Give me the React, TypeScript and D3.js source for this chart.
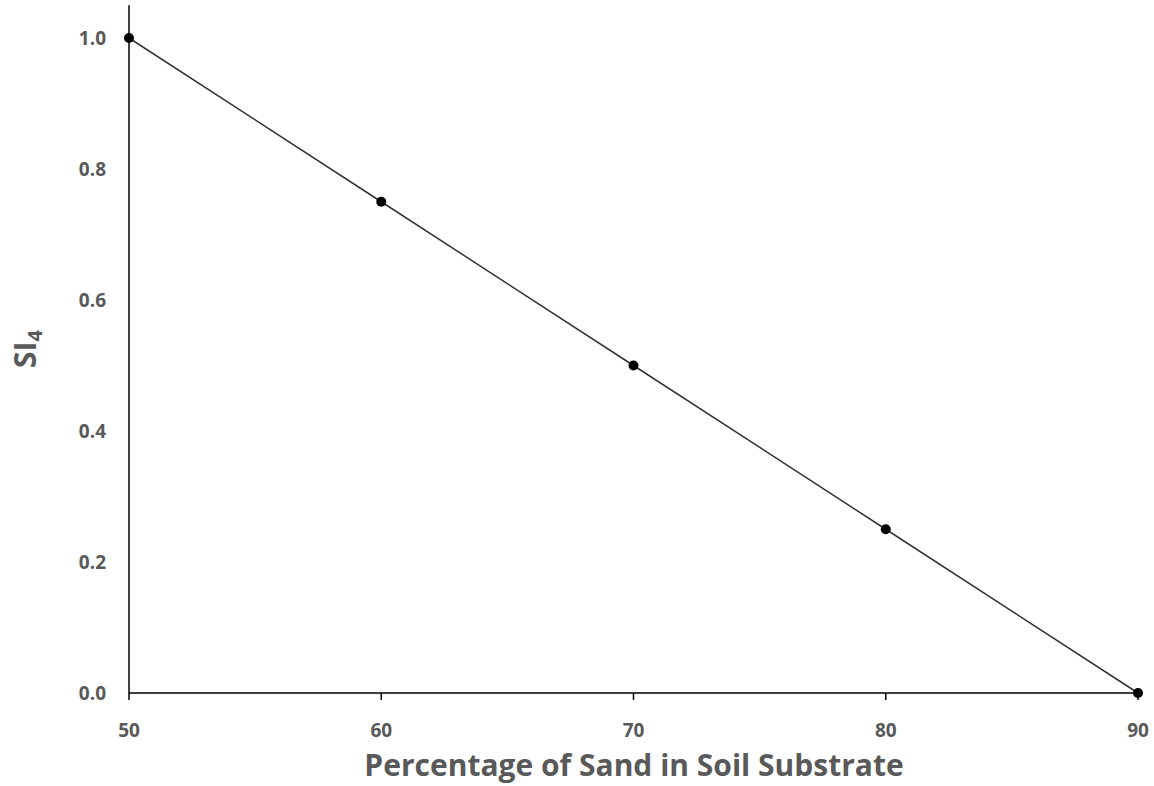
import React from "react";
import * as d3 from "d3";

const sandPct = [50, 60, 70, 80, 90];
const siValues = [1.0, 0.75, 0.5, 0.25, 0.0];
const xTicks = [50, 60, 70, 80, 90];
const yTicks = [0, 0.2, 0.4, 0.6, 0.8, 1.0];
const xTitle = "Percentage of Sand in Soil Substrate";

export default function App() {
  const W = 1154, H = 786;
  const x = d3.scaleLinear().domain([50, 90]).range([129, 1138]);
  const y = d3.scaleLinear().domain([0, 1]).range([693, 38]);
  const pts = sandPct.map((v, i) => [x(v), y(siValues[i])] as [number, number]);
  const line = d3.line()(pts) || "";
  const font = "'Open Sans', 'Liberation Sans', sans-serif";
  const gray = "#595959";
  return (
    <svg width={W} height={H} style={{ position: "fixed", left: 0, top: 0, background: "#fff" }}>
      <rect width={W} height={H} fill="#fff" />
      <line x1={x(50)} x2={x(50)} y1={y(1.05)} y2={y(0)} stroke="#000" strokeWidth={1.5} />
      <line x1={x(50)} x2={x(90)} y1={y(0)} y2={y(0)} stroke="#000" strokeWidth={1.5} />
      {xTicks.map((t) => (
        <g key={"x" + t}>
          <line x1={x(t)} x2={x(t)} y1={y(0)} y2={y(0) + 7} stroke="#000" strokeWidth={1.5} />
          <text x={x(t)} y={737} textAnchor="middle" fontFamily={font} fontWeight="bold" fontSize={19} fill={gray}>
            {t}
          </text>
        </g>
      ))}
      {yTicks.map((t) => (
        <text key={"y" + t} x={106} y={y(t) + 7} textAnchor="end" fontFamily={font} fontWeight="bold" fontSize={19} fill={gray}>
          {t.toFixed(1)}
        </text>
      ))}
      <path d={line} fill="none" stroke="#333" strokeWidth={1.5} />
      {pts.map((p, i) => (
        <circle key={i} cx={p[0]} cy={p[1]} r={5} fill="#000" />
      ))}
      <text x={634} y={776} textAnchor="middle" fontFamily={font} fontWeight="bold" fontSize={30} fill={gray}>
        {xTitle}
      </text>
      <text transform={`translate(36,349) rotate(-90)`} textAnchor="middle" fontFamily={font} fontWeight="bold" fontSize={30} fill={gray}>
        SI<tspan fontSize={20} dy={6}>4</tspan>
      </text>
    </svg>
  );
}
